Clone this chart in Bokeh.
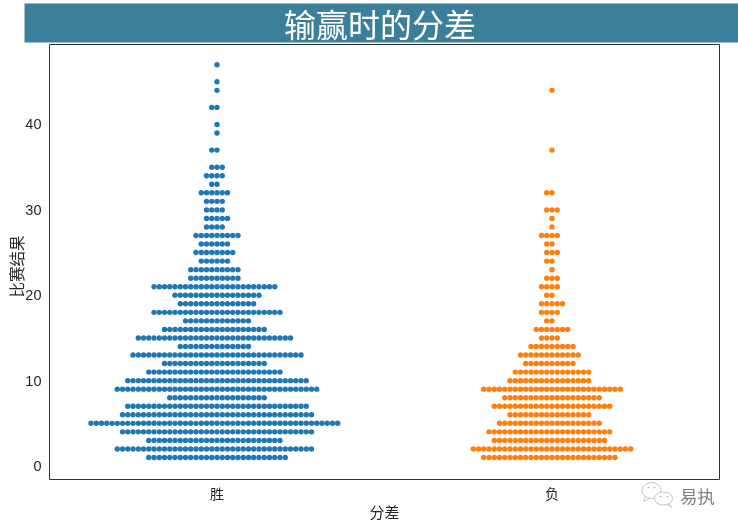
import math
from bokeh.plotting import figure
from bokeh.models import FixedTicker, Range1d, ColumnDataSource, InlineStyleSheet
from bokeh.core.properties import value
from bokeh.embed import file_html
from bokeh.resources import INLINE

title_text = "输赢时的分差"
x_label = "分差"
y_label = "比赛结果"
categories = ["胜", "负"]
watermark = "易执"
y_ticks = [0, 10, 20, 30, 40]

win_scores = [47, 45, 44, 42, 40, 39, 37, 35, 34, 33, 32, 31, 30, 29, 28, 27, 26, 25, 24, 23, 22,
              21, 20, 19, 18, 17, 16, 15, 14, 13, 12, 11, 10, 9, 8, 7, 6, 5, 4, 3, 2, 1]
win_counts = [1, 1, 1, 2, 1, 1, 2, 3, 4, 2, 6, 4, 4, 5, 4, 9, 6, 8, 6, 10, 10,
              24, 17, 15, 25, 13, 20, 30, 14, 33, 20, 26, 35, 39, 19, 35, 37, 48, 37, 26, 38, 27]

loss_scores = [44, 37, 32, 30, 29, 28, 27, 26, 25, 24, 23, 22, 21, 20, 19, 18, 17, 16, 15,
               14, 13, 12, 11, 10, 9, 8, 7, 6, 5, 4, 3, 2, 1]
loss_counts = [1, 1, 2, 3, 1, 1, 4, 2, 3, 2, 1, 3, 4, 2, 5, 4, 2, 7, 4,
               9, 12, 10, 15, 16, 27, 19, 23, 16, 20, 24, 22, 31, 26]

STEP = 0.01567
CJK = "Noto Sans CJK SC"


def pin(left, top, z):
    return [InlineStyleSheet(css=f":host {{ position: fixed !important; left: {left}px; top: {top}px; z-index: {z}; }}")]


def swarm(center, scores, counts):
    xs, ys = [], []
    for s, n in zip(scores, counts):
        for i in range(n):
            xs.append(center + (i - n // 2) * STEP)
            ys.append(s)
    return ColumnDataSource(dict(x=xs, y=ys))


p = figure(width=738, height=527, output_backend="svg", toolbar_location=None,
           frame_width=670, frame_height=435,
           min_border_left=49, min_border_right=19, min_border_top=44, min_border_bottom=48,
           x_range=Range1d(-0.5, 1.5), y_range=Range1d(-1.58, 49.37),
           background_fill_color="white", border_fill_color="white",
           stylesheets=pin(0, 0, 1))

p.scatter("x", "y", source=swarm(0, win_scores, win_counts), size=5.4, color="#1f77b4", line_color=None)
p.scatter("x", "y", source=swarm(1, loss_scores, loss_counts), size=5.4, color="#ff7f0e", line_color=None)

p.grid.visible = False
p.outline_line_color = "#333333"
p.outline_line_width = 1

for ax in (p.xaxis[0], p.yaxis[0]):
    ax.axis_line_color = None
    ax.major_tick_line_color = None
    ax.minor_tick_line_color = None
    ax.major_tick_out = 0
    ax.major_tick_in = 0
    ax.minor_tick_out = 0
    ax.minor_tick_in = 0
    ax.major_label_text_color = "#262626"
    ax.axis_label_text_color = "#262626"
    ax.axis_label_text_font_style = "normal"
    ax.axis_label_text_font_size = "15px"
    ax.axis_label_text_font = CJK
    ax.major_label_text_font = "Liberation Sans"
    ax.major_label_text_font_size = "14.5px"

p.xaxis[0].ticker = FixedTicker(ticks=[0, 1])
p.xaxis[0].major_label_overrides = {0: categories[0], 1: categories[1]}
p.xaxis[0].major_label_text_font = CJK
p.xaxis[0].major_label_text_font_size = "14px"
p.xaxis[0].axis_label = x_label
p.xaxis[0].axis_label_standoff = -5
p.xaxis[0].major_label_standoff = 3
p.yaxis[0].ticker = FixedTicker(ticks=y_ticks)
p.yaxis[0].major_label_standoff = 8

# Transparent layer over the page, drawn in page pixels: title band, y label, watermark
top = figure(width=738, height=527, output_backend="svg", toolbar_location=None,
             x_range=Range1d(0, 738), y_range=Range1d(527, 0),
             min_border=0, background_fill_alpha=0, border_fill_alpha=0,
             outline_line_color=None, stylesheets=pin(0, 0, 2))
top.axis.visible = False
top.grid.visible = False

top.quad(left=[24], right=[738], top=[3], bottom=[42], fill_color="#3c7f9b", line_color=None)
top.text(x=[379.5], y=[22], text=[title_text], text_color="white",
         text_font=value(CJK), text_font_size="32px",
         text_align="center", text_baseline="middle")

top.text(x=[15.5], y=[266], text=[y_label], text_color="#262626", angle=[math.pi / 2],
         text_font=value(CJK), text_font_size="15.5px",
         text_align="center", text_baseline="middle")

top.ellipse(x=[651, 663], y=[490, 498], width=[19, 18], height=[16, 13],
            fill_color="white", line_color="#c4c4c4", line_width=1)
top.line(x=[645, 643, 649], y=[496, 501, 498], line_color="#c4c4c4", line_width=1)
top.line(x=[668, 671, 667], y=[503, 507, 504], line_color="#c4c4c4", line_width=1)
top.scatter(x=[648, 654, 660, 667], y=[487, 487, 496, 496], size=1.6, color="#a8a8a8", line_color=None)
top.text(x=[697], y=[494.5], text=[watermark], text_color="#808080",
         text_font=value(CJK), text_font_size="17.5px",
         text_align="center", text_baseline="middle")

open("out.html", "w").write(file_html([p, top], INLINE))
